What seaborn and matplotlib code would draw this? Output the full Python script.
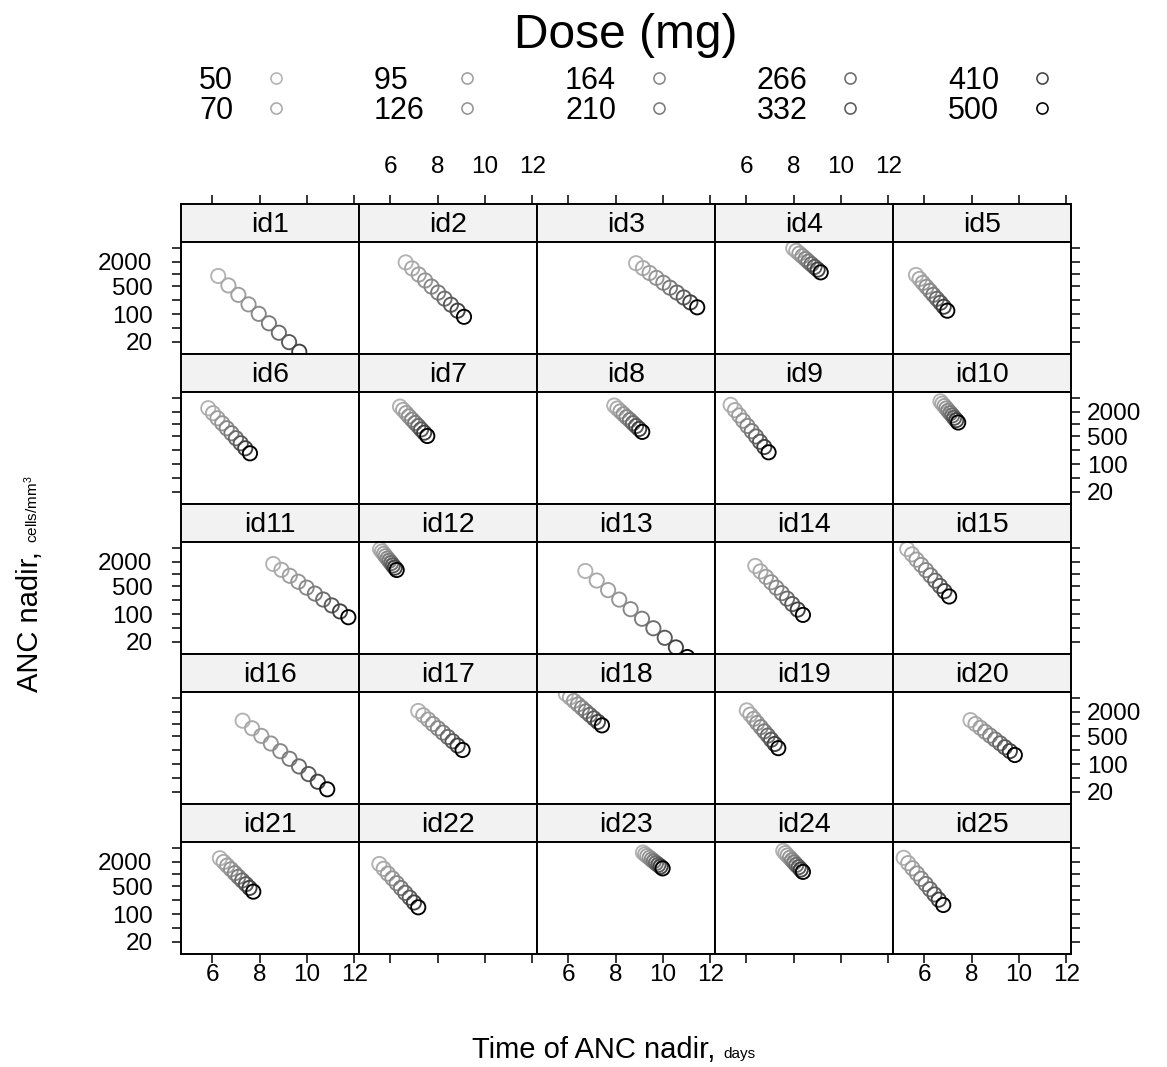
import numpy as np
import pandas as pd
import matplotlib
matplotlib.use("Agg")
import matplotlib.pyplot as plt
from matplotlib.lines import Line2D
from matplotlib.ticker import NullLocator
import seaborn as sns

# ── Data ───────────────────────────────────────────────────────────────────────
DOSES = [50, 70, 95, 126, 164, 210, 266, 332, 410, 500]
SUBJECTS = [f"id{i}" for i in range(1, 26)]

# time of ANC nadir (days) and ANC nadir (cells/mm3), one value per dose
t_id1 = [6.25, 6.68, 7.10, 7.53, 7.96, 8.39, 8.81, 9.24, 9.67, 10.09]
anc_id1 = [893, 518, 301, 174, 101, 58.6, 34.0, 19.8, 11.4, 6.65]
t_id2 = [6.65, 6.92, 7.20, 7.47, 7.74, 8.02, 8.29, 8.56, 8.84, 9.11]
anc_id2 = [1950, 1380, 970, 690, 485, 343, 242, 171, 121, 85]
t_id3 = [8.86, 9.15, 9.43, 9.72, 10.01, 10.29, 10.58, 10.87, 11.15, 11.44]
anc_id3 = [1860, 1405, 1060, 800, 603, 455, 344, 259, 195, 147]
t_id4 = [7.98, 8.11, 8.24, 8.37, 8.50, 8.62, 8.75, 8.88, 9.01, 9.14]
anc_id4 = [4400, 3780, 3240, 2780, 2380, 2040, 1750, 1500, 1290, 1100]
t_id5 = [5.65, 5.80, 5.94, 6.09, 6.24, 6.38, 6.53, 6.68, 6.82, 6.97]
anc_id5 = [946, 753, 600, 477, 379, 302, 240, 191, 152, 121]
t_id6 = [5.83, 6.03, 6.22, 6.42, 6.61, 6.81, 7.00, 7.20, 7.39, 7.59]
anc_id6 = [2480, 1860, 1390, 1040, 783, 587, 440, 330, 247, 185]
t_id7 = [6.41, 6.54, 6.67, 6.79, 6.92, 7.05, 7.18, 7.30, 7.43, 7.56]
anc_id7 = [2720, 2250, 1870, 1550, 1280, 1060, 883, 731, 607, 502]
t_id8 = [7.94, 8.07, 8.20, 8.33, 8.46, 8.60, 8.73, 8.86, 8.99, 9.12]
anc_id8 = [2890, 2440, 2070, 1750, 1480, 1250, 1050, 889, 752, 635]
t_id9 = [5.34, 5.52, 5.70, 5.87, 6.05, 6.23, 6.41, 6.58, 6.76, 6.94]
anc_id9 = [3010, 2220, 1640, 1210, 895, 661, 488, 360, 266, 196]
t_id10 = [6.68, 6.76, 6.85, 6.93, 7.01, 7.10, 7.18, 7.26, 7.35, 7.43]
anc_id10 = [3680, 3220, 2810, 2450, 2140, 1870, 1640, 1430, 1250, 1090]
t_id11 = [8.57, 8.92, 9.27, 9.63, 9.98, 10.33, 10.68, 11.04, 11.39, 11.74]
anc_id11 = [1780, 1270, 902, 641, 456, 324, 230, 164, 116, 83]
t_id12 = [5.57, 5.65, 5.73, 5.80, 5.88, 5.96, 6.04, 6.11, 6.19, 6.27]
anc_id12 = [4150, 3640, 3190, 2790, 2440, 2140, 1880, 1640, 1440, 1260]
t_id13 = [6.72, 7.20, 7.68, 8.15, 8.63, 9.11, 9.59, 10.07, 10.54, 11.02]
anc_id13 = [1190, 687, 396, 229, 132, 76, 44, 25.4, 14.6, 8.4]
t_id14 = [6.38, 6.60, 6.83, 7.05, 7.27, 7.50, 7.72, 7.94, 8.17, 8.39]
anc_id14 = [1590, 1160, 849, 621, 454, 332, 242, 177, 129, 95]
t_id15 = [5.28, 5.48, 5.67, 5.87, 6.07, 6.26, 6.46, 6.66, 6.85, 7.05]
anc_id15 = [4200, 3100, 2290, 1690, 1250, 923, 681, 503, 372, 274]
t_id16 = [7.28, 7.68, 8.07, 8.47, 8.87, 9.26, 9.66, 10.06, 10.45, 10.85]
anc_id16 = [1210, 782, 505, 325, 209, 135, 87, 56, 36, 23.3]
t_id17 = [7.18, 7.39, 7.60, 7.80, 8.01, 8.22, 8.43, 8.63, 8.84, 9.05]
anc_id17 = [2120, 1650, 1290, 1000, 781, 609, 474, 370, 288, 224]
t_id18 = [5.90, 6.07, 6.24, 6.41, 6.58, 6.74, 6.91, 7.08, 7.25, 7.42]
anc_id18 = [5640, 4610, 3780, 3080, 2520, 2070, 1690, 1380, 1130, 925]
t_id19 = [6.02, 6.17, 6.32, 6.46, 6.61, 6.76, 6.91, 7.05, 7.20, 7.35]
anc_id19 = [2190, 1720, 1350, 1060, 834, 655, 514, 404, 317, 249]
t_id20 = [7.95, 8.16, 8.37, 8.57, 8.78, 8.99, 9.20, 9.40, 9.61, 9.82]
anc_id20 = [1250, 998, 800, 640, 512, 410, 328, 262, 210, 168]
t_id21 = [6.32, 6.48, 6.63, 6.79, 6.95, 7.10, 7.26, 7.42, 7.57, 7.73]
anc_id21 = [2480, 2000, 1620, 1310, 1050, 851, 688, 556, 449, 362]
t_id22 = [5.54, 5.72, 5.90, 6.09, 6.27, 6.45, 6.63, 6.82, 7.00, 7.18]
anc_id22 = [1780, 1350, 1020, 776, 589, 446, 338, 256, 194, 147]
t_id23 = [9.15, 9.24, 9.33, 9.43, 9.52, 9.61, 9.70, 9.80, 9.89, 9.98]
anc_id23 = [3430, 3100, 2810, 2540, 2290, 2070, 1870, 1690, 1530, 1380]
t_id24 = [7.56, 7.65, 7.74, 7.84, 7.93, 8.02, 8.11, 8.21, 8.30, 8.39]
anc_id24 = [3790, 3320, 2900, 2540, 2210, 1940, 1690, 1480, 1290, 1130]
t_id25 = [5.13, 5.32, 5.50, 5.69, 5.87, 6.06, 6.24, 6.43, 6.61, 6.80]
anc_id25 = [2540, 1870, 1390, 1030, 759, 562, 416, 308, 228, 168]

NADIR_TIMES = [t_id1, t_id2, t_id3, t_id4, t_id5, t_id6, t_id7, t_id8, t_id9,
               t_id10, t_id11, t_id12, t_id13, t_id14, t_id15, t_id16, t_id17,
               t_id18, t_id19, t_id20, t_id21, t_id22, t_id23, t_id24, t_id25]
NADIR_ANC = [anc_id1, anc_id2, anc_id3, anc_id4, anc_id5, anc_id6, anc_id7,
             anc_id8, anc_id9, anc_id10, anc_id11, anc_id12, anc_id13, anc_id14,
             anc_id15, anc_id16, anc_id17, anc_id18, anc_id19, anc_id20,
             anc_id21, anc_id22, anc_id23, anc_id24, anc_id25]

XTICKS = [6, 8, 10, 12]
YTICKS = [20, 45, 100, 220, 500, 1000, 2000, 4500]
YTICKLABELS = ["20", "", "100", "", "500", "", "2000", ""]

# grey ramp, light (low dose) to black (high dose)
GREYS = ["#B3B3B3", "#A9A9A9", "#9F9F9F", "#949494", "#888888",
         "#7B7B7B", "#6C6C6C", "#5A5A5A", "#424242", "#000000"]

rows = []
for sid, times, ancs in zip(SUBJECTS, NADIR_TIMES, NADIR_ANC):
    for dose, t, a in zip(DOSES, times, ancs):
        rows.append((sid, dose, t, a))
df = pd.DataFrame(rows, columns=["subject", "dose", "time", "anc"])
pal = dict(zip(DOSES, GREYS))

# ── Figure ─────────────────────────────────────────────────────────────────────
sns.set_style("white")
plt.rcParams["font.family"] = ["Liberation Sans", "DejaVu Sans"]
plt.rcParams["mathtext.fontset"] = "custom"
plt.rcParams["mathtext.rm"] = "Liberation Sans"
plt.rcParams["mathtext.it"] = "Liberation Sans"
for key in ["text.color", "axes.labelcolor", "xtick.color", "ytick.color"]:
    plt.rcParams[key] = "black"

W, H = 1167, 1067
fig = plt.figure(figsize=(W / 100, H / 100), dpi=100)

PW, SH, PH = 178, 38, 112      # panel width, strip height, panel height (px)
X0, Y0 = 181, 204
XLIM = (4.68, 12.19)
YLIM = (10, 6310)
TICK = dict(direction="out", length=6.5, width=1.1, color="black",
            labelsize=17.5, labelcolor="black")
LW = 1.4

for k, sid in enumerate(SUBJECTS):
    r, c = divmod(k, 5)
    left = X0 + PW * c
    top = Y0 + (SH + PH) * r
    ax_s = fig.add_axes([left / W, 1 - (top + SH) / H, PW / W, SH / H])
    ax = fig.add_axes([left / W, 1 - (top + SH + PH) / H, PW / W, PH / H])

    sub = df[df["subject"] == sid]
    sns.scatterplot(data=sub, x="time", y="anc", hue="dose", hue_order=DOSES,
                    palette=pal, s=105, linewidth=1.35, legend=False, ax=ax)
    coll = ax.collections[-1]
    coll.set_edgecolors(coll.get_facecolors())
    coll.set_facecolors("none")

    ax.set_yscale("log")
    ax.set_xlim(*XLIM)
    ax.set_ylim(*YLIM)
    ax.set_xticks(XTICKS)
    ax.set_xticklabels([str(v) for v in XTICKS])
    ax.set_yticks(YTICKS)
    ax.set_yticklabels(YTICKLABELS)
    ax.yaxis.set_minor_locator(NullLocator())
    ax.set_xlabel("")
    ax.set_ylabel("")
    ax.set_facecolor("white")
    for sp in ax.spines.values():
        sp.set_visible(True)
        sp.set_linewidth(LW)
        sp.set_color("black")

    ax.tick_params(axis="both", which="both", left=False, right=False,
                   bottom=False, top=False, labelleft=False, labelright=False,
                   labelbottom=False, labeltop=False, **TICK)
    if c == 0:
        ax.tick_params(axis="y", left=True, labelleft=(r % 2 == 0), pad=14)
    if c == 4:
        ax.tick_params(axis="y", right=True, labelright=(r % 2 == 1), pad=5)
    if r == 4:
        ax.tick_params(axis="x", bottom=True, labelbottom=(c % 2 == 0), pad=0.5)

    # strip
    ax_s.set_facecolor("#F2F2F2")
    ax_s.set_xlim(*XLIM)
    ax_s.set_ylim(0, 1)
    ax_s.set_yticks([])
    ax_s.set_xticks(XTICKS)
    ax_s.set_xticklabels([str(v) for v in XTICKS])
    ax_s.tick_params(axis="x", bottom=False, labelbottom=False, top=False,
                     labeltop=False, **TICK)
    if r == 0:
        ax_s.tick_params(axis="x", top=True, labeltop=(c % 2 == 1), pad=12)
    for sp in ax_s.spines.values():
        sp.set_visible(True)
        sp.set_linewidth(LW)
        sp.set_color("black")
    ax_s.text(0.5, 0.45, sid, transform=ax_s.transAxes, ha="center",
              va="center", fontsize=20.5)

# legend: title as text, entries in five two-row columns
fig.text(626 / W, 1 - 35 / H, "Dose (mg)", ha="center", va="center",
         fontsize=34.5)
handles = [Line2D([], [], linestyle="none", marker="o", markersize=8,
                  markerfacecolor="none", markeredgecolor=pal[d],
                  markeredgewidth=1.15) for d in DOSES]
labels = [str(d) for d in DOSES]
labels[2] = labels[2] + "\u2007"   # pad "95" to the width of "126"
fig.legend(handles, labels, ncol=5, loc="upper left",
           bbox_to_anchor=(199 / W, 1 - 66 / H), frameon=False,
           markerfirst=False, fontsize=22, handlelength=0.6,
           handletextpad=1.1, columnspacing=2.9, labelspacing=0.0,
           borderpad=0, borderaxespad=0)

# axis labels with small unit text
fig.canvas.draw()
renderer = fig.canvas.get_renderer()

xl_main = fig.text(0, 0, "Time of ANC nadir, ", fontsize=21, va="baseline", ha="left")
xl_unit = fig.text(0, 0, "days", fontsize=11, va="baseline", ha="left")
w1 = xl_main.get_window_extent(renderer).width
w2 = xl_unit.get_window_extent(renderer).width
x_start = 614 - (w1 + w2) / 2
base_y = 1 - 1058 / H
xl_main.set_position((x_start / W, base_y))
xl_unit.set_position(((x_start + w1) / W, base_y))

yl_main = fig.text(0, 0, "ANC nadir, ", fontsize=21, rotation=90,
                   rotation_mode="anchor", va="baseline", ha="left")
yl_unit = fig.text(0, 0, r"cells/mm$^3$", fontsize=11, rotation=90,
                   rotation_mode="anchor", va="baseline", ha="left")
h1 = yl_main.get_window_extent(renderer).height
h2 = yl_unit.get_window_extent(renderer).height
y_start = 584 + (h1 + h2) / 2        # px from top
base_x = 38 / W
yl_main.set_position((base_x, 1 - y_start / H))
yl_unit.set_position((base_x, 1 - (y_start - h1) / H))

fig.savefig("out.png", dpi=100)
plt.close(fig)
